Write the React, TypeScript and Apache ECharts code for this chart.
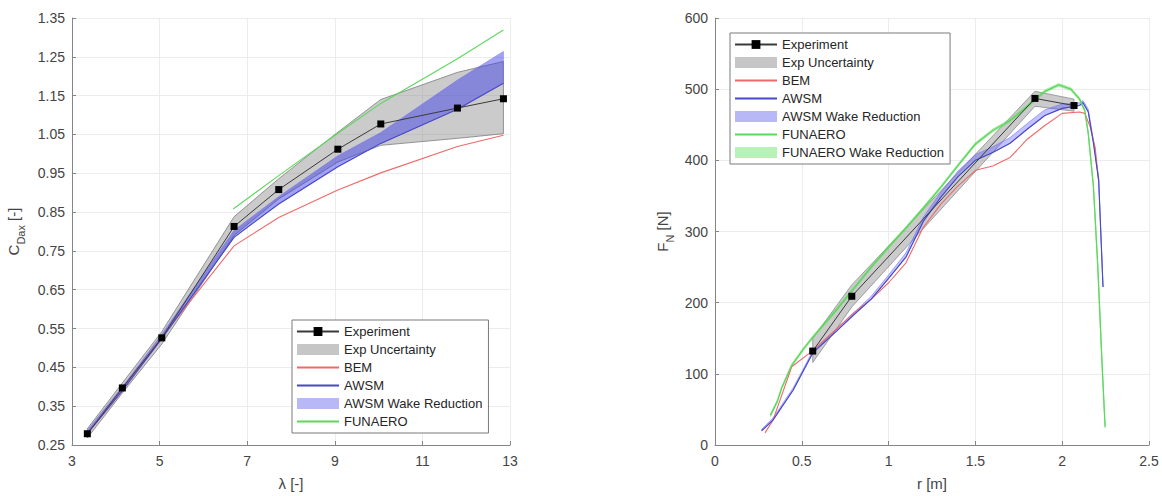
import React, { useEffect, useRef } from "react";
import * as echarts from "echarts";

// ---------- Left chart: C_Dax vs lambda ----------
const lambdaTicks = [3, 5, 7, 9, 11, 13];
const cdaxTicks = [0.25, 0.35, 0.45, 0.55, 0.65, 0.75, 0.85, 0.95, 1.05, 1.15, 1.25, 1.35];

const lambdaExp = [3.35, 4.15, 5.05, 6.7, 7.72, 9.07, 10.05, 11.8, 12.85];
const cdaxExp = [0.279, 0.397, 0.526, 0.813, 0.908, 1.012, 1.077, 1.118, 1.142];
const cdaxExpUpper = [0.292, 0.41, 0.542, 0.838, 0.936, 1.056, 1.14, 1.21, 1.238];
const cdaxExpLower = [0.268, 0.384, 0.51, 0.79, 0.884, 0.979, 1.022, 1.04, 1.052];
const cdaxBEM = [0.279, 0.39, 0.528, 0.763, 0.836, 0.907, 0.951, 1.019, 1.048];
const cdaxAWSM = [0.279, 0.39, 0.524, 0.785, 0.871, 0.967, 1.027, 1.115, 1.182];
const cdaxAWSMWakeUpper = [0.288, 0.4, 0.535, 0.803, 0.89, 0.995, 1.055, 1.19, 1.264];
const lambdaFun = [6.68, 7.72, 9.07, 10.05, 11.8, 12.85];
const cdaxFun = [0.858, 0.944, 1.053, 1.13, 1.245, 1.319];

// ---------- Right chart: F_N vs r ----------
const rExp = [0.563, 0.788, 1.843, 2.068];
const fnExp = [132, 209, 487, 477];
const fnExpUpper = [150, 225, 497, 486];
const fnExpLower = [116, 194, 476, 469];

const rBEM = [0.288, 0.334, 0.442, 0.565, 0.7, 0.8, 0.9, 1.0, 1.1, 1.2, 1.3, 1.4, 1.5, 1.6, 1.7, 1.8, 1.9, 2.0, 2.1, 2.13, 2.16, 2.19, 2.21];
const fnBEM = [17, 35, 110, 133, 163, 186, 205, 228, 256, 306, 338, 364, 386, 392, 404, 430, 449, 466, 468, 466, 448, 418, 370];

const rAWSM = [0.269, 0.334, 0.45, 0.565, 0.7, 0.8, 0.9, 1.0, 1.1, 1.2, 1.3, 1.4, 1.5, 1.6, 1.7, 1.8, 1.9, 2.0, 2.1, 2.12, 2.15, 2.18, 2.21, 2.235];
const fnAWSM = [20, 35, 77, 130, 160, 183, 205, 234, 264, 314, 348, 377, 400, 411, 424, 444, 463, 473, 477, 481, 468, 424, 372, 222];
const fnAWSMWakeUpper = [22, 38, 80, 133, 163, 186, 209, 239, 270, 320, 355, 385, 408, 419, 432, 452, 471, 479, 481, 484, 472, 428, 376, 226];

const rFun = [0.32, 0.36, 0.384, 0.442, 0.51, 0.565, 0.7, 0.8, 0.9, 1.0, 1.1, 1.2, 1.3, 1.4, 1.5, 1.6, 1.7, 1.8, 1.9, 1.98, 2.05, 2.1, 2.13, 2.15, 2.18, 2.205, 2.23, 2.247];
const fnFun = [42, 62, 80, 112, 135, 152, 190, 220, 250, 278, 305, 333, 362, 393, 423, 442, 456, 476, 497, 506, 500, 486, 470, 438, 363, 251, 112, 26];
const fnFunWakeUpper = [44, 64, 82, 114, 137, 154, 192, 222, 252, 280, 307, 335, 364, 395, 425, 444, 458, 478, 499, 508, 502, 488, 472, 440, 365, 253, 114, 28];
const fnFunWakeLower = [40, 60, 78, 110, 133, 150, 188, 218, 248, 276, 303, 331, 360, 391, 421, 440, 454, 474, 495, 504, 498, 484, 468, 436, 361, 249, 110, 24];

const FONT = "'Liberation Sans', Arial, Helvetica, sans-serif";
const AXIS_COLOR = "#858585";
const LABEL_COLOR = "#444444";
const GRID_COLOR = "#ececec";
const RED = "#ee6a6a";
const BLUE = "#4848c8";
const GREEN = "#5cd85c";
const GREY_BAND_ICON = "#c6c6c6";
const BLUE_BAND_ICON = "#b8b8f6";
const GREEN_BAND_ICON = "#b8f2b8";

const zip = (xs: number[], ys: number[]) => xs.map((x, i) => [x, ys[i]]);

function band(
  name: string,
  xs: number[],
  lo: number[],
  hi: number[],
  fill: string,
  stroke: string,
  legendColor: string,
  axisIndex: number
) {
  return {
    type: "custom",
    name,
    xAxisIndex: axisIndex,
    yAxisIndex: axisIndex,
    itemStyle: { color: legendColor },
    encode: { x: 0, y: [1, 2] },
    data: xs.map((x, i) => [x, lo[i], hi[i]]),
    renderItem: (params: any, api: any) => {
      if (params.dataIndex !== 0) return null;
      const pts: number[][] = [];
      for (let i = 0; i < xs.length; i++) pts.push(api.coord([xs[i], hi[i]]));
      for (let i = xs.length - 1; i >= 0; i--) pts.push(api.coord([xs[i], lo[i]]));
      return {
        type: "polygon",
        shape: { points: pts },
        style: { fill, stroke, lineWidth: 0.8 },
      };
    },
  };
}

// model lines: no markers; the transparent item colour keeps the legend icon a bare line
function line(name: string, data: number[][], color: string, axisIndex: number, width = 1.1) {
  return {
    type: "line",
    name,
    xAxisIndex: axisIndex,
    yAxisIndex: axisIndex,
    data,
    symbol: "circle",
    showSymbol: false,
    lineStyle: { color, width },
    itemStyle: { color: "rgba(0,0,0,0)", borderWidth: 0 },
  };
}

function expLine(data: number[][], axisIndex: number) {
  return {
    type: "line",
    name: "Experiment",
    xAxisIndex: axisIndex,
    yAxisIndex: axisIndex,
    data,
    symbol: "rect",
    symbolSize: 7,
    showAllSymbol: true,
    lineStyle: { color: "#3a3a3a", width: 1 },
    itemStyle: { color: "#000000" },
    z: 5,
  };
}

const axisCommon = {
  axisLine: { show: true, lineStyle: { color: AXIS_COLOR, width: 1 } },
  axisTick: { show: true, inside: true, length: 4, lineStyle: { color: AXIS_COLOR } },
  splitLine: { show: true, lineStyle: { color: GRID_COLOR, width: 1 } },
  nameLocation: "middle" as const,
  nameTextStyle: { fontFamily: FONT, fontSize: 15, color: LABEL_COLOR },
};

function legendCfg(left: number, top: number, names: any[]) {
  return {
    orient: "vertical",
    left,
    top,
    itemWidth: 42,
    itemHeight: 11,
    itemGap: 5,
    itemTextGap: 6,
    padding: [5, 6, 5, 4],
    borderColor: "#7a7a7a",
    borderWidth: 1,
    borderRadius: 0,
    backgroundColor: "#ffffff",
    selectedMode: false,
    textStyle: { fontFamily: FONT, fontSize: 13, color: "#262626", lineHeight: 13 },
    data: names,
  };
}

export default function App() {
  const ref = useRef<HTMLDivElement>(null);

  useEffect(() => {
    if (!ref.current) return;
    const chart = echarts.init(ref.current, undefined, { renderer: "svg" });

    const nameRich = {
      a: { fontFamily: FONT, fontSize: 15, color: LABEL_COLOR, verticalAlign: "top", lineHeight: 20 },
      b: { fontFamily: FONT, fontSize: 11, color: LABEL_COLOR, verticalAlign: "bottom", lineHeight: 11 },
    };

    const option: any = {
      animation: false,
      backgroundColor: "#ffffff",
      textStyle: { fontFamily: FONT },
      grid: [
        { left: 72, top: 18, width: 438, height: 428 },
        { left: 715, top: 18, width: 434, height: 429 },
      ],
      xAxis: [
        {
          ...axisCommon,
          type: "value",
          gridIndex: 0,
          min: 3,
          max: 13,
          name: "λ [-]",
          nameGap: 31,
          axisTick: { ...axisCommon.axisTick, customValues: lambdaTicks },
          axisLabel: {
            customValues: lambdaTicks,
            margin: 9,
            fontFamily: FONT,
            fontSize: 14,
            color: LABEL_COLOR,
          },
        },
        {
          ...axisCommon,
          type: "value",
          gridIndex: 1,
          min: 0,
          max: 2.5,
          interval: 0.5,
          name: "r [m]",
          nameGap: 31,
          axisLabel: { margin: 9, fontFamily: FONT, fontSize: 14, color: LABEL_COLOR },
        },
      ],
      yAxis: [
        {
          ...axisCommon,
          type: "value",
          gridIndex: 0,
          min: 0.25,
          max: 1.35,
          name: "{a|C}{b|Dax}{a| [-]}",
          nameGap: 46,
          nameTextStyle: { color: LABEL_COLOR, rich: nameRich },
          axisTick: { ...axisCommon.axisTick, customValues: cdaxTicks },
          axisLabel: {
            customValues: cdaxTicks,
            margin: 7,
            fontFamily: FONT,
            fontSize: 14,
            color: LABEL_COLOR,
            formatter: (v: number) => v.toFixed(2),
          },
        },
        {
          ...axisCommon,
          type: "value",
          gridIndex: 1,
          min: 0,
          max: 600,
          interval: 100,
          name: "{a|F}{b|N}{a| [N]}",
          nameGap: 40,
          nameTextStyle: { color: LABEL_COLOR, rich: nameRich },
          axisLabel: { margin: 7, fontFamily: FONT, fontSize: 14, color: LABEL_COLOR },
        },
      ],
      legend: [
        legendCfg(292, 320, [
          "Experiment",
          { name: "Exp Uncertainty", icon: "rect", itemStyle: { color: GREY_BAND_ICON, borderWidth: 0 } },
          "BEM",
          "AWSM",
          { name: "AWSM Wake Reduction", icon: "rect", itemStyle: { color: BLUE_BAND_ICON, borderWidth: 0 } },
          "FUNAERO",
        ]),
        legendCfg(730, 33, [
          "Experiment",
          { name: "Exp Uncertainty", icon: "rect", itemStyle: { color: GREY_BAND_ICON, borderWidth: 0 } },
          "BEM",
          "AWSM",
          { name: "AWSM Wake Reduction", icon: "rect", itemStyle: { color: BLUE_BAND_ICON, borderWidth: 0 } },
          "FUNAERO",
          { name: "FUNAERO Wake Reduction", icon: "rect", itemStyle: { color: GREEN_BAND_ICON, borderWidth: 0 } },
        ]),
      ],
      series: [
        // left
        band("Exp Uncertainty", lambdaExp, cdaxExpLower, cdaxExpUpper, "rgba(140,140,140,0.45)", "#7c7c7c", GREY_BAND_ICON, 0),
        band("AWSM Wake Reduction", lambdaExp, cdaxAWSM, cdaxAWSMWakeUpper, "rgba(60,60,235,0.48)", "rgba(110,110,240,0.6)", BLUE_BAND_ICON, 0),
        line("BEM", zip(lambdaExp, cdaxBEM), RED, 0),
        line("AWSM", zip(lambdaExp, cdaxAWSM), BLUE, 0),
        line("FUNAERO", zip(lambdaFun, cdaxFun), GREEN, 0),
        expLine(zip(lambdaExp, cdaxExp), 0),
        // right
        band("Exp Uncertainty", rExp, fnExpLower, fnExpUpper, "rgba(140,140,140,0.45)", "#8a8a8a", GREY_BAND_ICON, 1),
        band("AWSM Wake Reduction", rAWSM, fnAWSM, fnAWSMWakeUpper, "rgba(80,80,255,0.35)", "rgba(110,110,250,0.7)", BLUE_BAND_ICON, 1),
        band("FUNAERO Wake Reduction", rFun, fnFunWakeLower, fnFunWakeUpper, "rgba(90,220,90,0.35)", "rgba(90,220,90,0.5)", GREEN_BAND_ICON, 1),
        line("BEM", zip(rBEM, fnBEM), RED, 1),
        line("AWSM", zip(rAWSM, fnAWSM), BLUE, 1),
        line("FUNAERO", zip(rFun, fnFun), GREEN, 1, 1.3),
        expLine(zip(rExp, fnExp), 1),
      ],
    };

    chart.setOption(option);
    return () => chart.dispose();
  }, []);

  return (
    <div
      ref={ref}
      style={{ position: "absolute", left: 0, top: 0, width: 1162, height: 496, background: "#fff" }}
    />
  );
}
